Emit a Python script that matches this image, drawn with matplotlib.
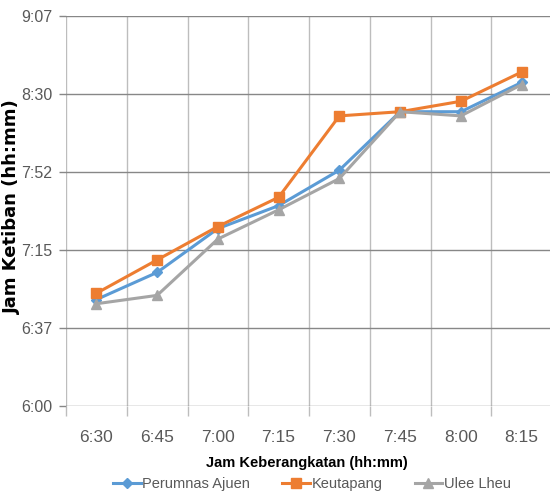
import matplotlib
matplotlib.use("Agg")
import matplotlib.pyplot as plt
from matplotlib.ticker import FixedLocator

# Departure times (categories) and arrival times per origin
departures = ["6:30", "6:45", "7:00", "7:15", "7:30", "7:45", "8:00", "8:15"]
perumnas_ajuen = ["6:51", "7:04", "7:25", "7:36", "7:53", "8:21", "8:21", "8:35"]
keutapang = ["6:54", "7:10", "7:26", "7:40", "8:19", "8:21", "8:26", "8:40"]
ulee_lheu = ["6:49", "6:53", "7:20", "7:34", "7:49", "8:21", "8:19", "8:34"]
y_tick_labels = ["6:00", "6:37", "7:15", "7:52", "8:30", "9:07"]
y_min, y_max = "6:00", "9:07"


def to_minutes(t):
    h, m = t.split(":")
    return int(h) * 60 + int(m)


sans = ["Liberation Sans", "DejaVu Sans"]

fig = plt.figure(figsize=(5.5, 4.95), dpi=100)
ax = fig.add_axes([66 / 550, 1 - 406 / 495, (552 - 66) / 550, (406 - 15.7) / 495])

x = list(range(len(departures)))
series = [
    ("Perumnas Ajuen", perumnas_ajuen, "#5B9BD5", "D", 5),
    ("Keutapang", keutapang, "#ED7D31", "s", 7),
    ("Ulee Lheu", ulee_lheu, "#A5A5A5", "^", 7.5),
]
for name, vals, color, marker, ms in series:
    ax.plot(x, [to_minutes(v) for v in vals], color=color, lw=2.2,
            marker=marker, markersize=ms, label=name, zorder=3)

lo, hi = to_minutes(y_min), to_minutes(y_max)
ax.set_ylim(lo, hi)
step = (hi - lo) / (len(y_tick_labels) - 1)
ax.yaxis.set_major_locator(FixedLocator([lo + i * step for i in range(len(y_tick_labels))]))
ax.set_yticklabels(y_tick_labels)

ax.set_xlim(-0.5, len(departures) - 0.5)
ax.set_xticks(x)
ax.set_xticklabels(departures)
ax.xaxis.set_minor_locator(FixedLocator([i - 0.5 for i in range(len(departures) + 1)]))

ax.grid(axis="y", which="major", color="#878787", lw=1.0)
ax.grid(axis="x", which="minor", color="#BDBDBD", lw=1.0)
ax.set_axisbelow(True)
for s in ax.spines.values():
    s.set_visible(False)

ax.tick_params(axis="x", which="major", length=0, pad=17)
ax.tick_params(axis="x", which="minor", length=7, width=1.0, color="#BDBDBD", direction="out")
ax.tick_params(axis="y", which="major", length=5, width=1.0, color="#878787", pad=5)
for lab in ax.get_xticklabels():
    lab.set_fontfamily(sans)
    lab.set_fontsize(12.5)
    lab.set_color("#595959")
for lab in ax.get_yticklabels():
    lab.set_fontfamily(sans)
    lab.set_fontsize(11.5)
    lab.set_color("#595959")

ax.set_ylabel("Jam Ketiban (hh:mm)", fontsize=13, fontweight="bold",
              family="DejaVu Sans", color="#000000")
ax.yaxis.set_label_coords(-0.112, 0.51)
ax.yaxis.label.set_va("center")

ax.set_xlabel("Jam Keberangkatan (hh:mm)", fontsize=10.5, fontweight="bold",
              family=sans, color="#000000")
ax.xaxis.set_label_coords(0.496, -0.146)
ax.xaxis.label.set_va("center")

leg = fig.legend(loc="center", bbox_to_anchor=(312 / 550, 1 - 484 / 495), ncol=3,
                 frameon=False, handlelength=1.9, handletextpad=0.1,
                 columnspacing=2.2, prop={"family": sans, "size": 10.5},
                 borderaxespad=0, borderpad=0)
for t in leg.get_texts():
    t.set_color("#595959")

fig.savefig("out.png", dpi=100, facecolor="white")
